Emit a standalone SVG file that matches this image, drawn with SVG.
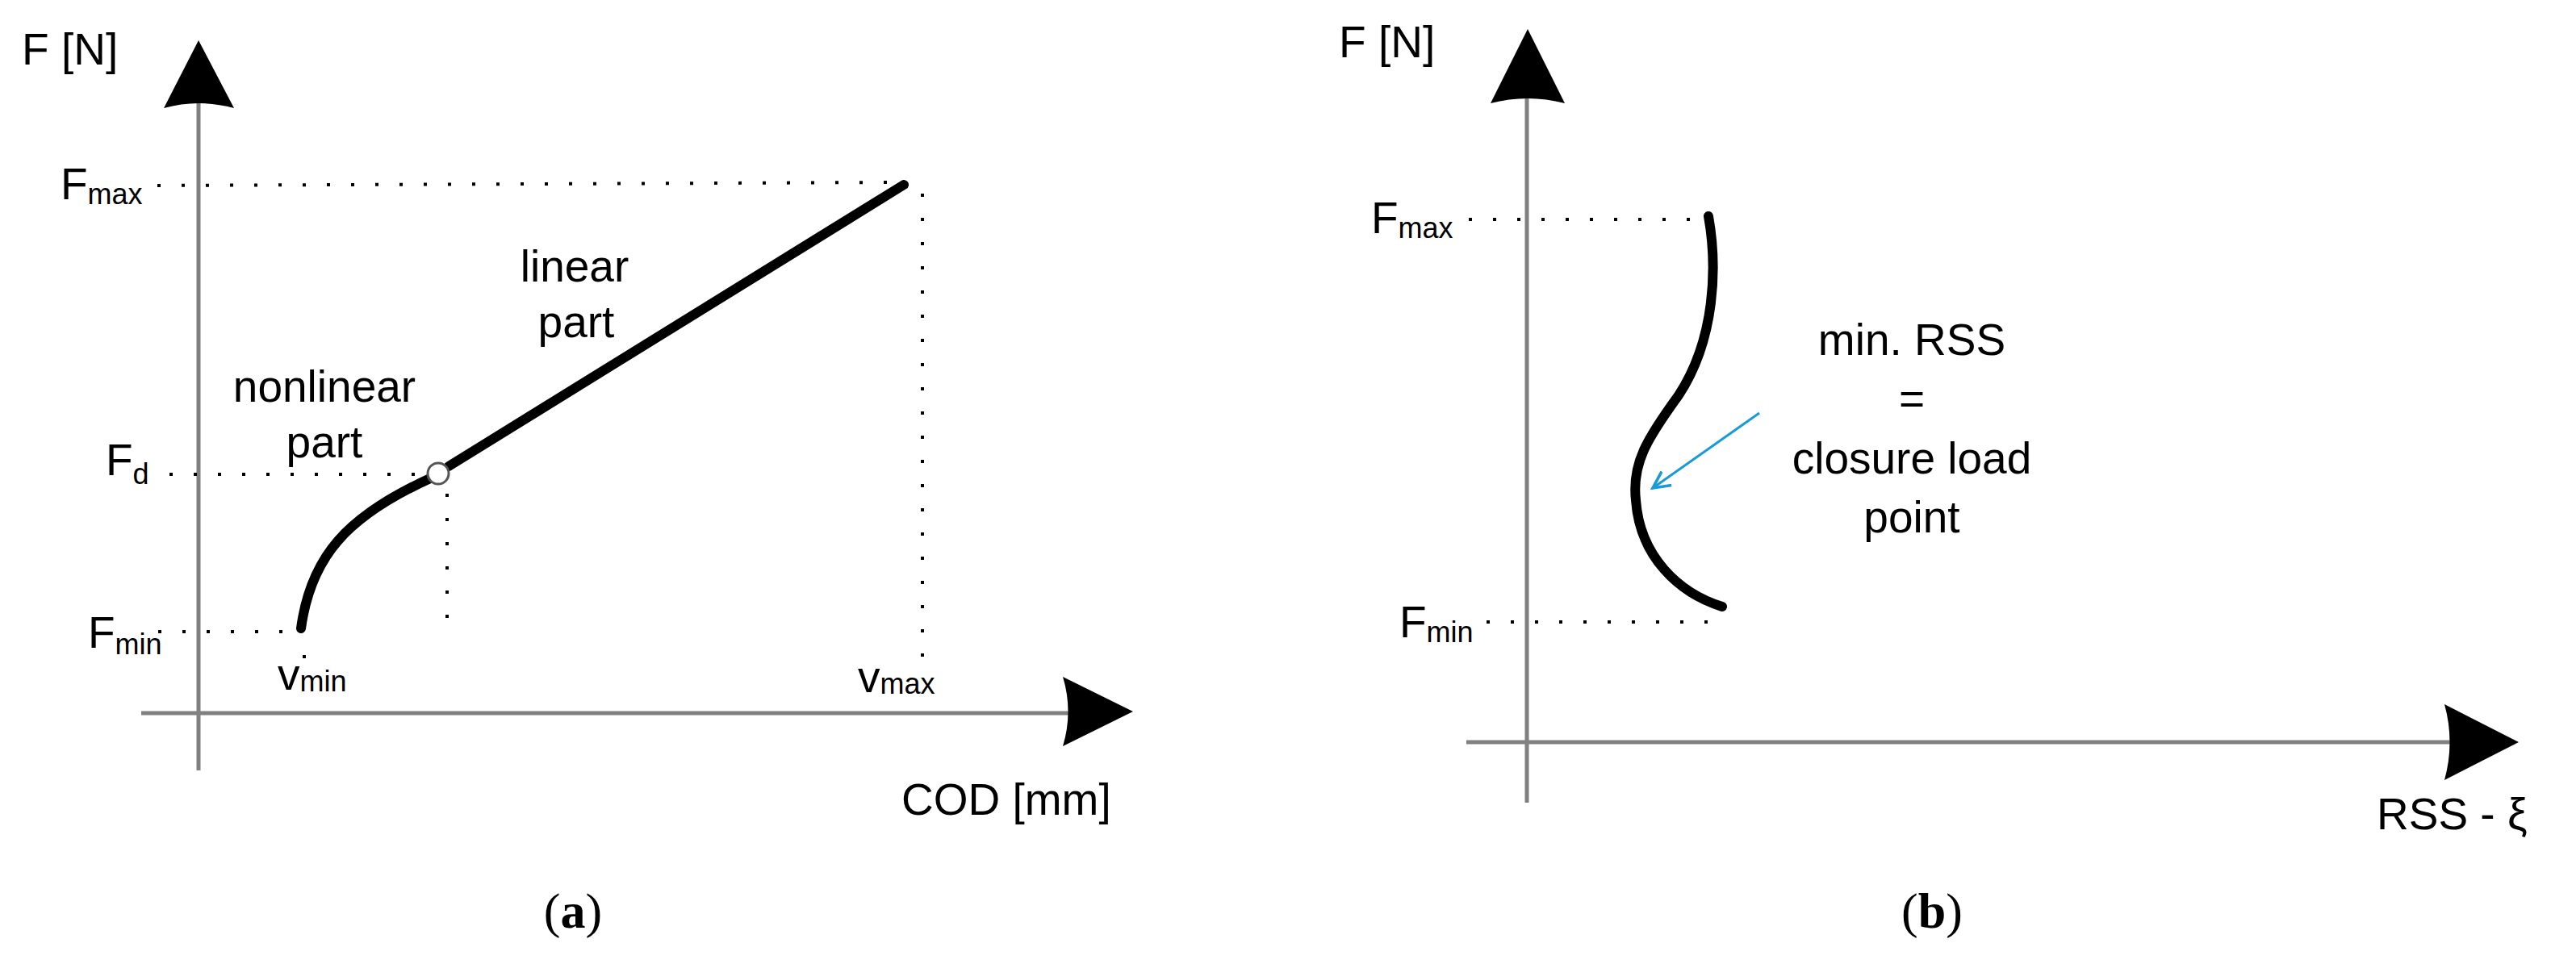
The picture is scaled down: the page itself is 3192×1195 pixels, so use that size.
<svg xmlns="http://www.w3.org/2000/svg" width="3192" height="1195" viewBox="0 0 3192 1195">
<style>
.ax{stroke:#808080;stroke-width:5;fill:none}
.dot{stroke:#000;stroke-width:4;stroke-dasharray:4 26;fill:none}
.crv{stroke:#000;stroke-width:12;fill:none;stroke-linecap:round}
.t{font-family:"Liberation Sans",Arial,sans-serif;font-size:55px;fill:#000}
.s{font-size:36px}
.cap{font-family:"Liberation Serif","Times New Roman",serif;font-size:62px;fill:#000}
.ah{fill:#000}
</style>
<defs>
<marker id="bl" markerWidth="8" markerHeight="8" refX="7" refY="4" orient="auto" markerUnits="strokeWidth">
<path d="M0,0.5 L7,4 L0,7.5" fill="none" stroke="#1a9ad6" stroke-width="1.2"/>
</marker>
</defs>
<rect width="3192" height="1195" fill="#fff"/>

<g id="connectors">
<!-- panel a axes -->
<line class="ax" x1="246" y1="955" x2="246" y2="125"/>
<path class="ah" d="M246,50 L290,134 Q246,122 203,134 Z"/>
<line class="ax" x1="175" y1="884" x2="1330" y2="884"/>
<path class="ah" d="M1404,882 L1317,839 Q1330,882 1317,925 Z"/>
<!-- panel a guides -->
<line class="dot" x1="195" y1="230" x2="1120" y2="226"/>
<line class="dot" x1="1143" y1="240" x2="1143" y2="826"/>
<line class="dot" x1="210" y1="588" x2="525" y2="588"/>
<line class="dot" x1="554" y1="612" x2="554" y2="784"/>
<line class="dot" x1="196" y1="783" x2="365" y2="783"/>
<line class="dot" x1="377" y1="812" x2="377" y2="816"/>
<!-- panel b axes -->
<line class="ax" x1="1892" y1="995" x2="1892" y2="120"/>
<path class="ah" d="M1893,36 L1939,128 Q1893,116 1847,128 Z"/>
<line class="ax" x1="1817" y1="920" x2="3040" y2="920"/>
<path class="ah" d="M3121,920 L3029,873 Q3042,920 3029,967 Z"/>
<line class="dot" x1="1820" y1="272" x2="2110" y2="272"/>
<line class="dot" x1="1842" y1="771" x2="2136" y2="771"/>
<line x1="2180" y1="512" x2="2048" y2="605" stroke="#1a9ad6" stroke-width="3" marker-end="url(#bl)"/>
</g>

<g id="curve-a">
<path class="crv" d="M373,779 C385,690 430,640 533,593"/>
<line class="crv" x1="556" y1="578" x2="1120" y2="229"/>
<circle cx="543" cy="587" r="13" fill="#fff" stroke="#555" stroke-width="3"/>
</g>
<g id="curve-b">
<path class="crv" d="M2117,268 C2128,330 2126,420 2080,490 C2040,545 2022,575 2027,620 C2032,690 2080,735 2134,752"/>
</g>

<g id="labels-a">
<text class="t" x="27" y="80">F [N]</text>
<text class="t" x="75" y="247">F<tspan class="s" dy="6">max</tspan></text>
<text class="t" x="131" y="589">F<tspan class="s" dy="11">d</tspan></text>
<text class="t" x="109" y="803">F<tspan class="s" dy="8">min</tspan></text>
<text class="t" x="344" y="855">v<tspan class="s" dy="2">min</tspan></text>
<text class="t" x="1063" y="858">v<tspan class="s" dy="2">max</tspan></text>
<text class="t" x="1117" y="1010">COD [mm]</text>
<text class="t" x="712" y="349" text-anchor="middle">linear</text>
<text class="t" x="714" y="418" text-anchor="middle">part</text>
<text class="t" x="402" y="498" text-anchor="middle">nonlinear</text>
<text class="t" x="402" y="567" text-anchor="middle">part</text>
</g>
<g id="labels-b">
<text class="t" x="1659" y="71">F [N]</text>
<text class="t" x="1699" y="289">F<tspan class="s" dy="6">max</tspan></text>
<text class="t" x="1734" y="790">F<tspan class="s" dy="6">min</tspan></text>
<text class="t" x="2945" y="1028">RSS - ξ</text>
<text class="t" x="2369" y="440" text-anchor="middle">min. RSS</text>
<text class="t" x="2369" y="513" text-anchor="middle">=</text>
<text class="t" x="2369" y="587" text-anchor="middle">closure load</text>
<text class="t" x="2369" y="660" text-anchor="middle">point</text>
</g>
<g id="captions">
<text class="cap" x="710" y="1150" text-anchor="middle">(<tspan font-weight="bold">a</tspan>)</text>
<text class="cap" x="2394" y="1150" text-anchor="middle">(<tspan font-weight="bold">b</tspan>)</text>
</g>
</svg>
